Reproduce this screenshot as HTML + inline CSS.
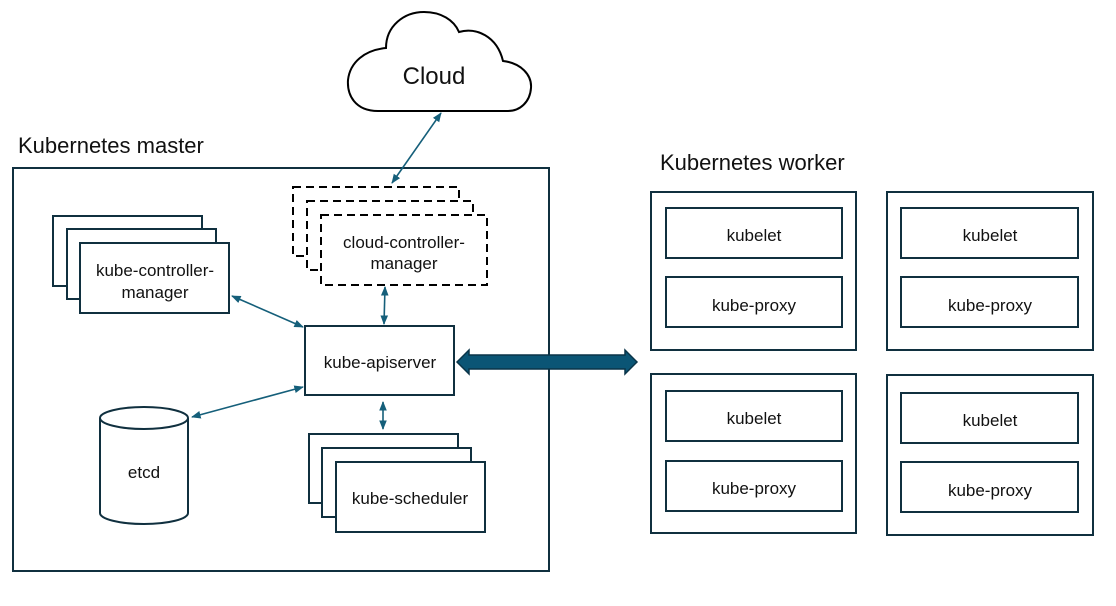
<!DOCTYPE html>
<html><head><meta charset="utf-8"><style>
html,body{margin:0;padding:0;background:#fff;}
svg{display:block;}
text{font-family:"Liberation Sans",sans-serif;fill:#111;}
</style></head><body>
<svg width="1116" height="606" viewBox="0 0 1116 606" xmlns="http://www.w3.org/2000/svg">
<defs>
<marker id="a" viewBox="0 0 10 10" refX="9" refY="5" markerWidth="6" markerHeight="6" orient="auto-start-reverse"><path d="M0,1 L10,5 L0,9 Z" fill="#155f7a"/></marker>
</defs>
<g fill="#fff" stroke="#10303f" stroke-width="2">
<path d="M378,111 C355,111 347,95 348,80 C350,62 365,50 386,48 C386,26 404,12 424,12 C441,12 454,20 459,32 C476,27 497,36 503,61 C521,63 532,75 531,88 C530,102 520,111 508,111 Z" stroke="#000"/>
<rect x="13" y="168" width="536" height="403"/>
<rect x="53" y="216" width="149" height="70"/>
<rect x="67" y="229" width="149" height="70"/>
<rect x="80" y="243" width="149" height="70"/>
<g stroke="#000" stroke-dasharray="8,5">
<rect x="293" y="187" width="166" height="69"/>
<rect x="307" y="201" width="166" height="69"/>
<rect x="321" y="215" width="166" height="70"/>
</g>
<rect x="305" y="326" width="149" height="69"/>
<rect x="309" y="434" width="149" height="69"/>
<rect x="322" y="448" width="149" height="69"/>
<rect x="336" y="462" width="149" height="70"/>
<path d="M100,418 L100,513 A44,11 0 0 0 188,513 L188,418"/>
<ellipse cx="144" cy="418" rx="44" ry="11"/>
<rect x="651" y="192" width="205" height="158"/>
<rect x="666" y="208" width="176" height="50"/>
<rect x="666" y="277" width="176" height="50"/>
<rect x="887" y="192" width="206" height="158"/>
<rect x="901" y="208" width="177" height="50"/>
<rect x="901" y="277" width="177" height="50"/>
<rect x="651" y="374" width="205" height="159"/>
<rect x="666" y="391" width="176" height="50"/>
<rect x="666" y="461" width="176" height="50"/>
<rect x="887" y="375" width="206" height="160"/>
<rect x="901" y="393" width="177" height="50"/>
<rect x="901" y="462" width="177" height="50"/>
</g>
<g stroke="#155f7a" stroke-width="1.6" fill="none" marker-start="url(#a)" marker-end="url(#a)">
<line x1="392" y1="183" x2="441" y2="113"/>
<line x1="385" y1="287" x2="384" y2="324"/>
<line x1="232" y1="296" x2="303" y2="327"/>
<line x1="192" y1="417" x2="303" y2="387"/>
<line x1="383" y1="402" x2="383" y2="429"/>
</g>
<path d="M457,362 L469,350 L469,355 L625,355 L625,350 L637,362 L625,374 L625,369 L469,369 L469,374 Z" fill="#0b5575" stroke="#0a3448" stroke-width="1.5"/>
<g font-size="22">
<text x="18" y="153">Kubernetes master</text>
<text x="660" y="170">Kubernetes worker</text>
</g>
<text x="434" y="84" text-anchor="middle" font-size="24">Cloud</text>
<g font-size="17" text-anchor="middle">
<text x="155" y="276">kube-controller-</text>
<text x="155" y="298">manager</text>
<text x="404" y="248">cloud-controller-</text>
<text x="404" y="269">manager</text>
<text x="380" y="368">kube-apiserver</text>
<text x="410" y="504">kube-scheduler</text>
<text x="144" y="478">etcd</text>
<text x="754" y="241">kubelet</text>
<text x="754" y="311">kube-proxy</text>
<text x="990" y="241">kubelet</text>
<text x="990" y="311">kube-proxy</text>
<text x="754" y="424">kubelet</text>
<text x="754" y="494">kube-proxy</text>
<text x="990" y="426">kubelet</text>
<text x="990" y="496">kube-proxy</text>
</g>
</svg>
</body></html>
